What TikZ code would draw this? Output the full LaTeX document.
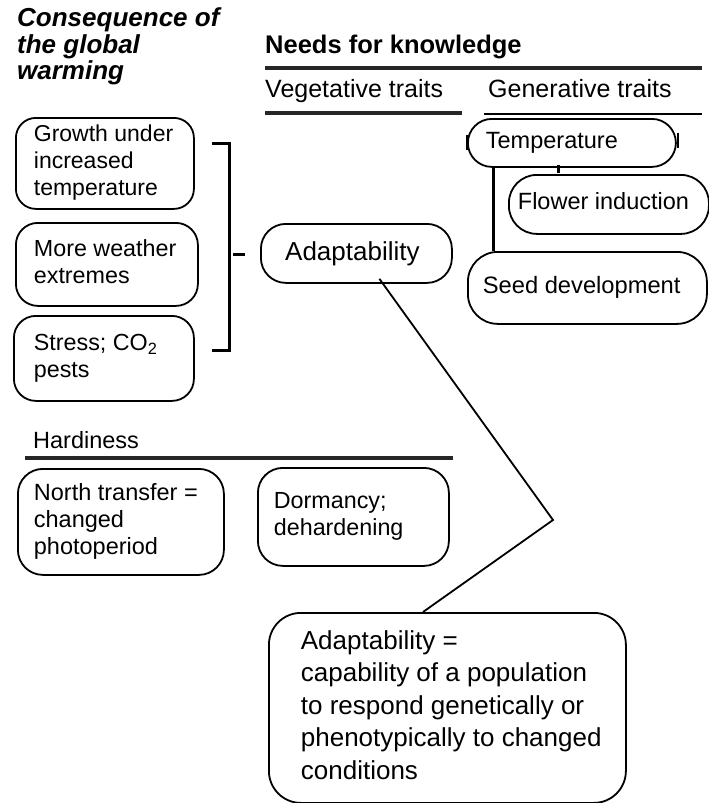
\documentclass[tikz,border=0pt]{standalone}
\usepackage{fontspec}
\setmainfont{Liberation Sans}
\usetikzlibrary{calc}
\newcommand\bxt[2]{\makebox[#1][l]{\begin{tabular}{@{}l@{}}#2\end{tabular}}}
\newcommand\hdt[1]{\begin{tabular}[t]{@{}l@{}}#1\end{tabular}}
\tikzset{
  rbox/.style={draw, line width=1.8pt, anchor=north west, inner ysep=0pt,
    font=\fontsize{23.3}{27}\selectfont},
  head/.style={anchor=base west, inner sep=0pt},
  rule/.style={line width=3.5pt, black!85},
  thinrule/.style={line width=1.3pt},
  link/.style={line width=1.8pt},
  heavy/.style={line width=3pt},
}
\begin{document}
\begin{tikzpicture}[x=1pt,y=-1pt]
\useasboundingbox (0,0) rectangle (709,803);
% headers
\node[head, font=\fontsize{26}{25}\selectfont\bfseries\itshape] (cons) at (17,27)
  {\hdt{Consequence of\\the global\\warming}};
\node[head, font=\fontsize{25.5}{27}\selectfont\bfseries] (needs) at (265,53) {Needs for knowledge};
\node[head, font=\fontsize{25}{27}\selectfont] (veg) at (265,97) {Vegetative traits};
\node[head, font=\fontsize{25}{27}\selectfont] (gen) at (488,97) {Generative traits};
\node[head, font=\fontsize{23.5}{27}\selectfont] (hard) at (33,448) {Hardiness};
\coordinate (r1a) at (265,68); \coordinate (r1b) at (702,68);
\coordinate (r2a) at (265,113); \coordinate (r2b) at (462,113);
\coordinate (r3a) at (484,114); \coordinate (r3b) at (702,114);
\coordinate (r4a) at (25,458); \coordinate (r4b) at (453,458);
\draw[rule] (r1a) -- (r1b);
\draw[rule] (r2a) -- (r2b);
\draw[thinrule] (r3a) -- (r3b);
\draw[rule] (r4a) -- (r4b);
% left column boxes
\node[rbox, rounded corners=20pt, inner xsep=18pt, minimum width=178pt, minimum height=91pt,
  font=\fontsize{23}{27}\selectfont]
  (grow) at (15,117) {\bxt{142pt}{Growth under\\increased\\temperature}};
\node[rbox, rounded corners=22pt, inner xsep=18pt, minimum width=182pt, minimum height=83pt]
  (more) at (15,222) {\bxt{146pt}{More weather\\extremes}};
\node[rbox, rounded corners=22pt, inner xsep=20pt, minimum width=180pt, minimum height=85pt]
  (stress) at (13,315) {\raisebox{4pt}{\bxt{140pt}{Stress; CO\textsubscript{2}\\pests}}};
% bracket
\coordinate (bt1) at (212,143); \coordinate (bt2) at (229,143);
\coordinate (bb1) at (212,350); \coordinate (bb2) at (229,350);
\coordinate (bm1) at (233,254); \coordinate (bm2) at (245,254);
\draw[heavy] (bt1) -- (bt2) -- (bb2) -- (bb1);
\draw[heavy] (bm1) -- (bm2);
% adaptability
\node[rbox, rounded corners=25pt, inner xsep=0pt, minimum width=191pt, minimum height=59pt,
  font=\fontsize{26}{29}\selectfont] (adapt) at (260,223)
  {\hspace*{-8pt}\raisebox{-6pt}{Adaptability}};
% generative
\node[rbox, rounded corners=24pt, inner xsep=18pt, minimum width=208pt, minimum height=48pt,
  font=\fontsize{23.5}{27}\selectfont]
  (temp) at (467,118) {\bxt{172pt}{Temperature}};
\node[rbox, rounded corners=28pt, inner xsep=9pt, minimum width=200pt, minimum height=59pt,
  font=\fontsize{23.5}{27}\selectfont]
  (flower) at (508,174) {\bxt{182pt}{Flower induction}};
\node[rbox, rounded corners=30pt, inner xsep=15pt, minimum width=239pt, minimum height=72pt,
  font=\fontsize{23.7}{27}\selectfont]
  (seed) at (467,251) {\bxt{209pt}{Seed development}};
\draw[heavy] ($(temp.south west)+(26,0)$) -- ($(seed.north west)+(26,0)$);
\draw[heavy] ($(temp.south west)+(91,-3)$) -- ($(flower.north west)+(50,-1)$);
\draw[line width=2pt] ($(temp.west)+(0,-8)$) -- ($(temp.west)+(0,7)$);
\draw[line width=2pt] ($(temp.east)+(1,-10)$) -- ($(temp.east)+(1,5)$);
% hardiness
\node[rbox, rounded corners=25pt, inner xsep=16pt, minimum width=206pt, minimum height=106pt,
  font=\fontsize{23.5}{27}\selectfont]
  (north) at (17,468) {\bxt{174pt}{North transfer =\\changed\\photoperiod}};
\node[rbox, rounded corners=25pt, inner xsep=16pt, minimum width=191pt, minimum height=98pt]
  (dorm) at (257,467) {\raisebox{6pt}{\bxt{159pt}{Dormancy;\\dehardening}}};
% definition
\node[rbox, rounded corners=32pt, inner xsep=32pt, minimum width=357pt, minimum height=190pt,
  font=\fontsize{26}{32.5}\selectfont] (def) at (268,612)
  {\raisebox{7pt}{\bxt{293pt}{Adaptability =\\capability of a population\\to respond genetically or\\phenotypically to changed\\conditions}}};
\coordinate (kink) at (553,520);
\draw[link] ($(adapt.south)+(23,-5)$) -- (kink) -- ($(def.north west)+(155,0)$);
\end{tikzpicture}
\end{document}
